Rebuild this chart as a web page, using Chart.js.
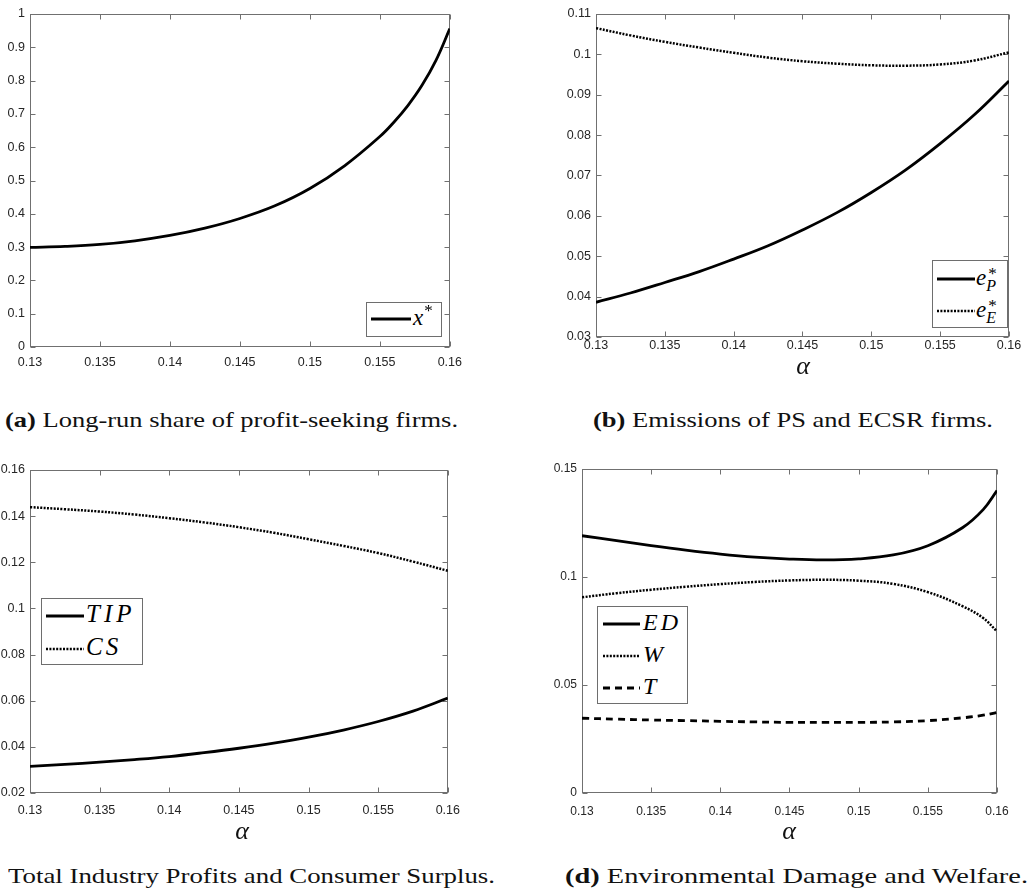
<!DOCTYPE html>
<html>
<head>
<meta charset="utf-8">
<script src="https://cdn.jsdelivr.net/npm/chart.js@4.4.1/dist/chart.umd.min.js"></script>
<style>
  html, body { margin:0; padding:0; background:#fff; }
  body { width:1033px; height:889px; position:relative; overflow:hidden; }
  canvas { position:absolute; }
  .cap { position:absolute; font-family:"Liberation Serif", serif; font-size:21px; color:#111; white-space:nowrap; line-height:1; transform-origin:0 50%; }
  .cap b { font-weight:bold; }
  .alab { position:absolute; font-family:"Liberation Serif", serif; font-style:italic; font-size:26px; color:#111; line-height:1; transform:translateX(-50%); }
  .leg { position:absolute; border:1px solid #6e6e6e; background:#fff; box-sizing:border-box; }
  .row { position:absolute; left:0; height:0; }
  .row svg { position:absolute; top:-4px; }
  .row .t { position:absolute; top:-13px; font-family:"Liberation Serif", serif; font-style:italic; font-size:23px; line-height:1; color:#000; white-space:nowrap; }
  .sup { font-style:normal; font-size:17px; position:relative; top:-9px; margin-left:1px; }
  .stack { display:inline-block; position:relative; width:15px; height:1px; }
  .stack .s1 { position:absolute; left:2px; top:-19px; font-style:normal; font-size:17px; line-height:1; }
  .stack .s2 { position:absolute; left:0px; top:-6px; font-size:16px; line-height:1; }
</style>
</head>
<body>
<canvas id="ca"></canvas>
<canvas id="cb"></canvas>
<canvas id="cc"></canvas>
<canvas id="cd"></canvas>

<div class="cap" data-w="453" style="left:5px; top:410px;"><b>(a)</b> Long-run share of profit-seeking firms.</div>
<div class="cap" data-w="400" style="left:593px; top:410px;"><b>(b)</b> Emissions of PS and ECSR firms.</div>
<div class="cap" data-w="487" style="left:8px; top:866px;">Total Industry Profits and Consumer Surplus.</div>
<div class="cap" data-w="463" style="left:565px; top:866px;"><b>(d)</b> Environmental Damage and Welfare.</div>

<div class="alab" style="left:803px; top:353px;">α</div>
<div class="alab" style="left:242px; top:818px;">α</div>
<div class="alab" style="left:789px; top:818px;">α</div>

<!-- legends -->
<div class="leg" style="left:366px; top:302px; width:76px; height:35px;">
  <div class="row" style="top:16px;">
    <svg width="40" height="8" style="left:4px"><line x1="0" y1="4" x2="40" y2="4" stroke="#000" stroke-width="2.8"/></svg>
    <span class="t" style="left:46px;">x<span class="sup">*</span></span>
  </div>
</div>
<div class="leg" style="left:932px; top:260px; width:76px; height:68px;">
  <div class="row" style="top:18px;">
    <svg width="38" height="8" style="left:4px"><line x1="0" y1="4" x2="38" y2="4" stroke="#000" stroke-width="2.8"/></svg>
    <span class="t" style="left:43px;">e<span class="stack"><span class="s1">*</span><span class="s2">P</span></span></span>
  </div>
  <div class="row" style="top:50px;">
    <svg width="38" height="8" style="left:4px"><line x1="0" y1="4" x2="38" y2="4" stroke="#000" stroke-width="2.5" stroke-dasharray="2 1.4"/></svg>
    <span class="t" style="left:43px;">e<span class="stack"><span class="s1">*</span><span class="s2">E</span></span></span>
  </div>
</div>
<div class="leg" style="left:41px; top:598px; width:102px; height:67px;">
  <div class="row" style="top:17px;">
    <svg width="38" height="8" style="left:4px"><line x1="0" y1="4" x2="38" y2="4" stroke="#000" stroke-width="2.8"/></svg>
    <span class="t" style="left:44px; top:-15px; font-size:25px; letter-spacing:4px;">TIP</span>
  </div>
  <div class="row" style="top:50px;">
    <svg width="38" height="8" style="left:4px"><line x1="0" y1="4" x2="38" y2="4" stroke="#000" stroke-width="2.5" stroke-dasharray="2 1.4"/></svg>
    <span class="t" style="left:44px; top:-15px; font-size:25px; letter-spacing:3px;">CS</span>
  </div>
</div>
<div class="leg" style="left:597px; top:606px; width:91px; height:98px;">
  <div class="row" style="top:17px;">
    <svg width="37" height="8" style="left:5px"><line x1="0" y1="4" x2="37" y2="4" stroke="#000" stroke-width="2.8"/></svg>
    <span class="t" style="left:45px; top:-14px; font-size:24px; letter-spacing:3px;">ED</span>
  </div>
  <div class="row" style="top:49px;">
    <svg width="37" height="8" style="left:5px"><line x1="0" y1="4" x2="37" y2="4" stroke="#000" stroke-width="2.5" stroke-dasharray="2 1.4"/></svg>
    <span class="t" style="left:45px; top:-14px; font-size:24px;">W</span>
  </div>
  <div class="row" style="top:81px;">
    <svg width="37" height="8" style="left:5px"><line x1="0" y1="4" x2="37" y2="4" stroke="#000" stroke-width="2.8" stroke-dasharray="7 5"/></svg>
    <span class="t" style="left:45px; top:-14px; font-size:24px;">T</span>
  </div>
</div>

<script>
// ---------------- data ----------------
const xTickVals   = [0.13, 0.135, 0.14, 0.145, 0.15, 0.155, 0.16];
const xTickLabels = ['0.13', '0.135', '0.14', '0.145', '0.15', '0.155', '0.16'];

const yTickValsA   = [0, 0.1, 0.2, 0.3, 0.4, 0.5, 0.6, 0.7, 0.8, 0.9, 1];
const yTickLabelsA = ['0', '0.1', '0.2', '0.3', '0.4', '0.5', '0.6', '0.7', '0.8', '0.9', '1'];
const yTickValsB   = [0.03, 0.04, 0.05, 0.06, 0.07, 0.08, 0.09, 0.1, 0.11];
const yTickLabelsB = ['0.03', '0.04', '0.05', '0.06', '0.07', '0.08', '0.09', '0.1', '0.11'];
const yTickValsC   = [0.02, 0.04, 0.06, 0.08, 0.1, 0.12, 0.14, 0.16];
const yTickLabelsC = ['0.02', '0.04', '0.06', '0.08', '0.1', '0.12', '0.14', '0.16'];
const yTickValsD   = [0, 0.05, 0.1, 0.15];
const yTickLabelsD = ['0', '0.05', '0.1', '0.15'];

// panel (a): long-run share x*
const alphaA = [0.13, 0.1325, 0.135, 0.1375, 0.14, 0.1425, 0.145, 0.1475, 0.15, 0.1525, 0.155, 0.156, 0.157, 0.158, 0.159, 0.16];
const xStar  = [0.299, 0.302, 0.308, 0.319, 0.335, 0.357, 0.386, 0.424, 0.476, 0.545, 0.632, 0.675, 0.725, 0.785, 0.860, 0.956];

// panels (b), (c): common alpha grid
const alphaGrid = [0.13, 0.1325, 0.135, 0.1375, 0.14, 0.1425, 0.145, 0.1475, 0.15, 0.1525, 0.155, 0.1575, 0.16];
const eP  = [0.0386, 0.0409, 0.0435, 0.0462, 0.0493, 0.0526, 0.0565, 0.0608, 0.0658, 0.0714, 0.0779, 0.0851, 0.0934];
const eE  = [0.1065, 0.1047, 0.1031, 0.1017, 0.1004, 0.0992, 0.0983, 0.0977, 0.0973, 0.0972, 0.0975, 0.0985, 0.1005];
const TIP = [0.0315, 0.0324, 0.0334, 0.0345, 0.0358, 0.0375, 0.0394, 0.0416, 0.0442, 0.0473, 0.0510, 0.0555, 0.0611];
const CS  = [0.1439, 0.1430, 0.1420, 0.1407, 0.1391, 0.1373, 0.1352, 0.1328, 0.1300, 0.1271, 0.1240, 0.1203, 0.1163];

// panel (d)
const alphaD = [0.13, 0.1325, 0.135, 0.1375, 0.14, 0.1425, 0.145, 0.1475, 0.15, 0.1525, 0.155, 0.1575, 0.159, 0.16];
const ED = [0.1191, 0.1168, 0.1145, 0.1124, 0.1106, 0.1092, 0.1083, 0.1079, 0.1084, 0.1102, 0.1145, 0.1228, 0.1312, 0.1400];
const W  = [0.0906, 0.0925, 0.0941, 0.0955, 0.0967, 0.0977, 0.0984, 0.0987, 0.0983, 0.0968, 0.0930, 0.0865, 0.0810, 0.0748];
const T  = [0.0346, 0.0342, 0.0338, 0.0335, 0.0332, 0.0329, 0.0327, 0.0327, 0.0327, 0.0329, 0.0335, 0.0348, 0.0360, 0.0373];

// ---------------- helpers ----------------
const pts = (xs, ys) => xs.map((x, i) => ({ x: x, y: ys[i] }));
const STY = {
  solid:  { borderWidth: 2.8, borderDash: [] },
  dotted: { borderWidth: 2.5, borderDash: [2, 1.4] },
  dashed: { borderWidth: 2.8, borderDash: [7, 5] }
};
function ds(xs, ys, style) {
  return Object.assign({
    data: pts(xs, ys), borderColor: '#000', backgroundColor: '#000',
    pointRadius: 0, fill: false, tension: 0.4
  }, STY[style]);
}

const boxPlugin = {
  id: 'matlabBox',
  beforeDatasetsDraw(chart) {
    const { ctx, chartArea: a } = chart;
    ctx.save();
    ctx.strokeStyle = '#707070';
    ctx.lineWidth = 1;
    const L = Math.round(a.left) + 0.5, R = Math.round(a.right) - 0.5;
    const Tp = Math.round(a.top) + 0.5, B = Math.round(a.bottom) - 0.5;
    ctx.strokeRect(L, Tp, R - L, B - Tp);
    const tl = 5;
    ctx.beginPath();
    chart.scales.x.ticks.forEach(t => {
      const px = Math.round(chart.scales.x.getPixelForValue(t.value)) + 0.5;
      ctx.moveTo(px, B); ctx.lineTo(px, B - tl);
      ctx.moveTo(px, Tp); ctx.lineTo(px, Tp + tl);
    });
    chart.scales.y.ticks.forEach(t => {
      const py = Math.round(chart.scales.y.getPixelForValue(t.value)) + 0.5;
      ctx.moveTo(L, py); ctx.lineTo(L + tl, py);
      ctx.moveTo(R, py); ctx.lineTo(R - tl, py);
    });
    ctx.stroke();
    ctx.restore();
  }
};

function makeChart(id, canvasRect, area, yMin, yMax, yVals, yLabels, datasets, xPad, fontSize) {
  const cv = document.getElementById(id);
  cv.style.left = canvasRect[0] + 'px';
  cv.style.top = canvasRect[1] + 'px';
  cv.width = canvasRect[2]; cv.height = canvasRect[3];
  cv.style.width = canvasRect[2] + 'px'; cv.style.height = canvasRect[3] + 'px';
  const yW = area[0] - canvasRect[0];
  const padTop = area[1] - canvasRect[1];
  const padRight = canvasRect[0] + canvasRect[2] - area[2];
  const xH = canvasRect[1] + canvasRect[3] - area[3];
  const font = { family: '"Liberation Sans", Arial, sans-serif', size: fontSize };
  return new Chart(cv, {
    type: 'line',
    data: { datasets: datasets },
    plugins: [boxPlugin],
    options: {
      responsive: false, animation: false, devicePixelRatio: 1,
      layout: { padding: { top: padTop, right: padRight, bottom: 0, left: 0 } },
      plugins: { legend: { display: false }, tooltip: { enabled: false } },
      scales: {
        x: {
          type: 'linear', min: 0.13, max: 0.16,
          grid: { display: false, drawTicks: false, tickLength: 0 },
          border: { display: false },
          afterBuildTicks: s => { s.ticks = xTickVals.map(v => ({ value: v })); },
          afterFit: s => { s.height = xH; },
          ticks: {
            autoSkip: false, maxRotation: 0, padding: xPad, color: '#262626', font: font,
            callback: (v) => { const i = xTickVals.findIndex(t => Math.abs(t - v) < 1e-9); return i >= 0 ? xTickLabels[i] : ''; }
          }
        },
        y: {
          type: 'linear', min: yMin, max: yMax,
          grid: { display: false, drawTicks: false, tickLength: 0 },
          border: { display: false },
          afterBuildTicks: s => { s.ticks = yVals.map(v => ({ value: v })); },
          afterFit: s => { s.width = yW; },
          ticks: {
            autoSkip: false, padding: 5, color: '#262626', font: font,
            callback: (v) => { const i = yVals.findIndex(t => Math.abs(t - v) < 1e-9); return i >= 0 ? yLabels[i] : ''; }
          }
        }
      }
    }
  });
}

makeChart('ca', [0, 0, 470, 380], [30, 14, 453, 347], 0, 1, yTickValsA, yTickLabelsA,
  [ds(alphaA, xStar, 'solid')], 8, 12.5);
makeChart('cb', [500, 0, 533, 380], [596, 14, 1009, 337], 0.03, 0.11, yTickValsB, yTickLabelsB,
  [ds(alphaGrid, eP, 'solid'), ds(alphaGrid, eE, 'dotted')], 1, 12.5);
makeChart('cc', [0, 450, 470, 380], [30, 470, 453, 793], 0.02, 0.16, yTickValsC, yTickLabelsC,
  [ds(alphaGrid, TIP, 'solid'), ds(alphaGrid, CS, 'dotted')], 10, 12.5);
makeChart('cd', [500, 450, 533, 380], [582, 469, 997, 793], 0, 0.15, yTickValsD, yTickLabelsD,
  [ds(alphaD, ED, 'solid'), ds(alphaD, W, 'dotted'), ds(alphaD, T, 'dashed')], 11, 12);

// stretch captions to the reference widths (Computer Modern is wider than the available serif)
document.querySelectorAll('.cap').forEach(el => {
  const target = +el.dataset.w;
  const w = el.getBoundingClientRect().width;
  if (w > 0) el.style.transform = 'scaleX(' + (target / w).toFixed(4) + ')';
});
</script>
</body>
</html>
